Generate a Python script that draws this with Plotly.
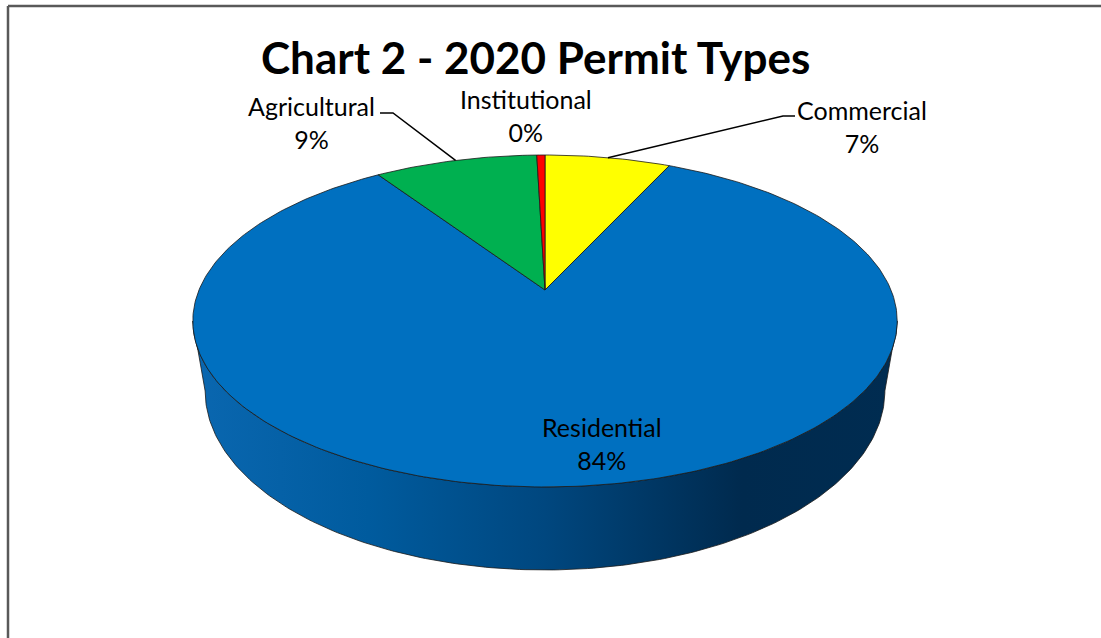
import numpy as np
import plotly.graph_objects as go

# ---- data ----
categories = ["Commercial", "Residential", "Agricultural", "Institutional"]
shares = [6.9, 83.7, 8.95, 0.45]
colors = ["#FFFF00", "#0070C0", "#00B050", "#FF0000"]
title_text = "Chart 2 - 2020 Permit Types"

# ---- geometry / style (pixel space) ----
W, H = 1101, 638
CX, CY = 545, 290          # apex of the pie on screen
A_Y, B_X, K = 160.2, 346.0, 0.1867   # vertical / horizontal scale, perspective
DEPTH = 67.5
SHRINK = 0.965


def proj(u, v, drop=0.0, shrink=1.0):
    s = 1.0 + K * v
    x = CX + shrink * B_X * u / s
    y = CY - A_Y * v / s + drop / s
    return x, y


fig = go.Figure()

total = float(sum(shares))
fracs = [s / total for s in shares]
starts = np.cumsum([0] + fracs[:-1])

# visible front arc (clockwise-from-top angle)
phi_lo = np.pi / 2 + np.arcsin(K)
phi_hi = 2 * np.pi - phi_lo

side_scale = [[0.0, "#0A67B0"], [0.25, "#005B9E"], [0.5, "#00477F"],
              [0.78, "#002A4E"], [1.0, "#002C51"]]

# sides
for f0, fr, col in zip(starts, fracs, colors):
    a = 2 * np.pi * f0
    b = 2 * np.pi * (f0 + fr)
    lo, hi = max(a, phi_lo), min(b, phi_hi)
    if hi <= lo:
        continue
    ph = np.linspace(lo, hi, 200)
    u, v = np.sin(ph), np.cos(ph)
    xt, yt = proj(u, v)
    xb, yb = proj(u, v, drop=DEPTH, shrink=SHRINK)
    xs = np.concatenate([xt, xb[::-1], xt[:1]])
    ys = np.concatenate([yt, yb[::-1], yt[:1]])
    fig.add_trace(go.Scatter(
        x=xs, y=ys, mode="lines", fill="toself",
        fillgradient=dict(type="horizontal", colorscale=side_scale),
        line=dict(color="#1a1a1a", width=0.8),
        hoverinfo="skip", showlegend=False))

# top faces
for name, f0, fr, col in zip(categories, starts, fracs, colors):
    a = 2 * np.pi * f0
    b = 2 * np.pi * (f0 + fr)
    n = max(4, int(400 * fr))
    ph = np.linspace(a, b, n)
    xa, ya = proj(np.sin(ph), np.cos(ph))
    xs = np.concatenate([[CX], xa, [CX]])
    ys = np.concatenate([[CY], ya, [CY]])
    fig.add_trace(go.Scatter(
        x=xs, y=ys, mode="lines", fill="toself", fillcolor=col,
        line=dict(color="#1a1a1a", width=0.8),
        name=name, hoverinfo="name", showlegend=False))

# labels
label_pos = {
    "Commercial": (862, 126),
    "Residential": (602, 443),
    "Agricultural": (311, 122),
    "Institutional": (526, 115),
}
FONT = "Lato, Carlito, Calibri, sans-serif"
for name, s in zip(categories, shares):
    x, y = label_pos[name]
    fig.add_annotation(x=x, y=y, xref="x", yref="y",
                       text=f"{name}<br>{s / total * 100:.0f}%",
                       showarrow=False, align="center",
                       font=dict(family=FONT, size=25, color="#000000"))

# leader lines
def edge_point(name):
    i = categories.index(name)
    mid = 2 * np.pi * (starts[i] + fracs[i] / 2)
    return proj(np.sin(mid), np.cos(mid))

ax_, ay_ = edge_point("Agricultural")
fig.add_trace(go.Scatter(x=[380, 393, ax_], y=[113, 113, ay_], mode="lines",
                         line=dict(color="#000000", width=1.5),
                         hoverinfo="skip", showlegend=False))
cx_, cy_ = edge_point("Commercial")
fig.add_trace(go.Scatter(x=[cx_, 783, 795], y=[cy_, 116, 116], mode="lines",
                         line=dict(color="#000000", width=1.5),
                         hoverinfo="skip", showlegend=False))

fig.add_annotation(x=535, y=57, xref="x", yref="y", text=f"<b>{title_text}</b>",
                   showarrow=False, font=dict(family=FONT, size=44, color="#000000"))

# chart border (top and left visible)
fig.add_shape(type="line", x0=8, y0=6, x1=W + 5, y1=6, xref="x", yref="y",
              line=dict(color="#595959", width=2.5))
fig.add_shape(type="line", x0=8, y0=6, x1=8, y1=H + 5, xref="x", yref="y",
              line=dict(color="#595959", width=2.5))

fig.update_layout(
    width=W, height=H, margin=dict(l=0, r=0, t=0, b=0),
    paper_bgcolor="#FFFFFF", plot_bgcolor="#FFFFFF",
    xaxis=dict(range=[0, W], visible=False, fixedrange=True),
    yaxis=dict(range=[H, 0], visible=False, fixedrange=True),
    showlegend=False,
)

fig.write_html("out.html", config={"displayModeBar": False},
               post_script="document.body.style.margin='0';document.body.style.overflow='hidden';")
